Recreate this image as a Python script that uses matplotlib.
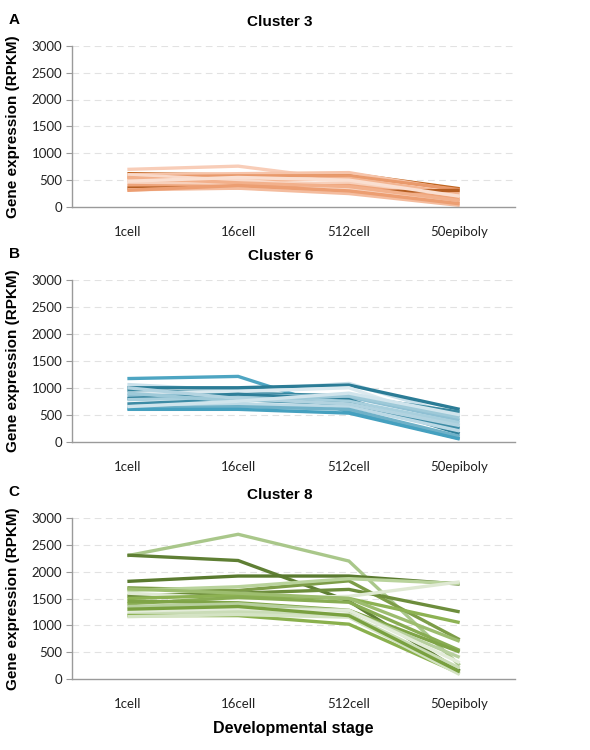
import matplotlib
matplotlib.use("Agg")
import matplotlib.pyplot as plt
import numpy as np

stages = ["1cell", "16cell", "512cell", "50epiboly"]
y_ticks = [0, 500, 1000, 1500, 2000, 2500, 3000]

# Cluster 3 (orange)
c3_values = [
    [700, 760, 500, 100],
    [620, 600, 620, 340],
    [600, 620, 640, 300],
    [560, 580, 580, 320],
    [500, 480, 530, 250],
    [450, 420, 450, 200],
    [400, 380, 400, 150],
    [350, 360, 280, 310],
    [320, 350, 250, 30],
    [600, 500, 350, 80],
    [550, 450, 380, 120],
    [310, 400, 300, 60],
    [480, 550, 500, 200],
]
c3_colors = ["#f8cdb8", "#c0651f", "#f6c4aa", "#e99a6c", "#f3b592", "#f7d0bb",
             "#eea47a", "#b55e22", "#f4bc9e", "#f9d9c9", "#f2b08b", "#ec9e72", "#fadfd1"]

# Cluster 6 (blue)
c6_values = [
    [1170, 1210, 550, 60],
    [1060, 950, 1080, 480],
    [1000, 1000, 1050, 600],
    [950, 900, 850, 550],
    [900, 930, 1000, 300],
    [850, 870, 830, 400],
    [800, 880, 780, 150],
    [780, 820, 750, 350],
    [700, 780, 700, 250],
    [650, 700, 650, 200],
    [620, 650, 600, 100],
    [600, 600, 530, 50],
    [900, 750, 850, 450],
    [1000, 800, 700, 300],
    [650, 750, 900, 500],
]
c6_colors = ["#4ea5c2", "#c9e0ea", "#2b7c96", "#38879f", "#dbe9ef", "#8fc0d3",
             "#2f7f99", "#a8cfdd", "#3d8ba5", "#bcd9e5", "#6fb1c8", "#45a0bf",
             "#9ec9d8", "#b2d3e0", "#d0e4ec"]

# Cluster 8 (green)
c8_values = [
    [2300, 2700, 2200, 250],
    [2310, 2210, 1450, 150],
    [1820, 1920, 1920, 1770],
    [1700, 1650, 1830, 730],
    [1550, 1600, 1670, 1250],
    [1650, 1720, 1870, 1780],
    [1600, 1500, 1540, 1810],
    [1500, 1560, 1500, 1050],
    [1400, 1520, 1430, 530],
    [1450, 1420, 1280, 500],
    [1350, 1400, 1270, 400],
    [1250, 1300, 1280, 300],
    [1200, 1250, 1200, 200],
    [1180, 1180, 1020, 100],
    [1160, 1200, 1150, 80],
    [1300, 1350, 1180, 130],
    [1680, 1600, 1500, 700],
]
c8_colors = ["#a9c78a", "#5f7f34", "#5a7a2f", "#7d9d48", "#6d8d3c", "#b9d39c",
             "#dfe9d3", "#8db253", "#88ac52", "#7fa447", "#b7cf9e", "#e3ecd9",
             "#cadcb7", "#8ab04d", "#d4e3c4", "#79a040", "#9dbd6f"]

panels = [
    ("A", "Cluster 3", c3_values, c3_colors, [0.122, 0.724, 0.751, 0.215]),
    ("B", "Cluster 6", c6_values, c6_colors, [0.122, 0.411, 0.751, 0.216]),
    ("C", "Cluster 8", c8_values, c8_colors, [0.122, 0.095, 0.751, 0.214]),
]

fig = plt.figure(figsize=(5.9, 7.5), dpi=100)
tick_font = "Lato"
bold_font = "Liberation Sans"
x = np.arange(len(stages))

for letter, title, values, colors, rect in panels:
    ax = fig.add_axes(rect)
    for vals, col in zip(values, colors):
        ax.plot(x, vals, color=col, lw=2.4, solid_capstyle="butt", solid_joinstyle="miter")
    ax.set_xlim(-0.5, len(stages) - 0.5)
    ax.set_ylim(0, 3000)
    ax.set_yticks(y_ticks)
    ax.set_xticks(x)
    ax.set_xticklabels(stages, fontfamily=tick_font, fontsize=9.5, color="#222222")
    ax.set_yticklabels([str(v) for v in y_ticks], fontfamily=tick_font, fontsize=9.5, color="#222222")
    ax.tick_params(axis="x", length=0, pad=14)
    ax.tick_params(axis="y", length=4, width=0.8, color="#9a9a9a", pad=3)
    for yv in y_ticks[1:]:
        ax.axhline(yv, color="#e2e2e2", lw=0.8, ls=(0, (6, 4)), zorder=0)
    for s in ["top", "right"]:
        ax.spines[s].set_visible(False)
    for s in ["left", "bottom"]:
        ax.spines[s].set_color("#9a9a9a")
        ax.spines[s].set_linewidth(1.0)
    ax.set_ylabel("Gene expression (RPKM)", fontfamily=bold_font, fontweight="bold",
                  fontsize=11)
    ax.yaxis.set_label_coords(-0.118, 0.5)
    ax.set_title(title, fontfamily=bold_font, fontweight="bold", fontsize=11, pad=14, x=0.47)
    top = rect[1] + rect[3]
    fig.text(0.015, top + 0.035, letter, fontfamily=bold_font, fontweight="bold",
             fontsize=11, va="center", ha="left")

fig.text(0.497, 0.028, "Developmental stage", fontfamily=bold_font, fontweight="bold",
         fontsize=11.5, ha="center", va="center")

fig.savefig("out.png", dpi=100)
